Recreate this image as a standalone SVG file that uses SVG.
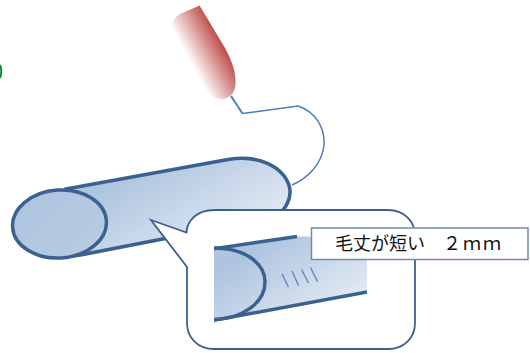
<svg xmlns="http://www.w3.org/2000/svg" width="530" height="353" viewBox="0 0 530 353">
  <style>
    .outline { stroke: #3a6190; fill: none; stroke-linejoin: round; }
    .cord { stroke: #4a7ebb; fill: none; stroke-linejoin: miter; }
    .hair { stroke: #5f8dc0; stroke-width: 1.5; fill: none; }
    .label { font-family: "Noto Sans CJK JP", "Liberation Sans", sans-serif; font-size: 18px; fill: #111111; }
  </style>
  <defs>
    <linearGradient id="tubeFill" gradientUnits="userSpaceOnUse" x1="170" y1="150" x2="235" y2="262">
      <stop offset="0" stop-color="#afc5df"/>
      <stop offset="1" stop-color="#e8eef6"/>
    </linearGradient>
    <linearGradient id="capFill" gradientUnits="userSpaceOnUse" x1="30" y1="190" x2="120" y2="290">
      <stop offset="0" stop-color="#aec4de"/>
      <stop offset="1" stop-color="#bccfe5"/>
    </linearGradient>
    <linearGradient id="insetFill" gradientUnits="userSpaceOnUse" x1="270" y1="240" x2="330" y2="325">
      <stop offset="0" stop-color="#afc5df"/>
      <stop offset="1" stop-color="#e6edf5"/>
    </linearGradient>
    <linearGradient id="tipFill" gradientUnits="userSpaceOnUse" x1="176" y1="36" x2="209" y2="18">
      <stop offset="0" stop-color="#ffffff"/>
      <stop offset="1" stop-color="#bd4a47"/>
    </linearGradient>
    <clipPath id="insetClip"><rect x="214" y="230" width="153" height="95"/></clipPath>
  </defs>

  <!-- green mark cut by the left edge -->
  <path id="edge-mark" d="M0 65 Q2.500 71 0 78" stroke="#0c8a2c" stroke-width="2" fill="none"/>

  <g id="connectors">
    <path class="cord" stroke-width="2" d="M231 96 L242.500 113.500"/>
    <path class="cord" stroke-width="1.500" d="M242.500 113.500 L298 106 C316 112 325 128 324 145 C322 164 308 178 292 185"/>
  </g>

  <g id="brush-tip">
    <path fill="url(#tipFill)" d="M199.500 5.500 L225 48 C232 61 236 72 235.500 84 C235 93 230 98 222 99 C214 99 208 94 203 86 L174 37 C170 28 172 19 179 14.500 Z"/>
  </g>

  <g id="tube">
    <path fill="url(#tubeFill)" stroke="#3a6190" stroke-width="3.500" d="M66 189 L228 159.500 C258 154 284 167 289.500 187 C292 198 286 209 276 217 L92 252.700 Q82 255 72 256 Z"/>
    <ellipse cx="59.500" cy="224" rx="47" ry="34" transform="rotate(-4 59.500 224)" fill="url(#capFill)" stroke="#3a6190" stroke-width="3.500"/>
  </g>

  <g id="callout">
    <path fill="#ffffff" stroke="#3a6190" stroke-width="1.800" d="M151 220 L186.500 232.500 C187 220 198 210 214 210 L388 210 C404 210 415 221 415 236 L415 323 C415 338 404 349 388 349 L214 349 C198 349 187 338 187 323 L187 267 Z"/>
  </g>

  <g id="inset-detail" clip-path="url(#insetClip)">
    <path fill="url(#insetFill)" d="M205 250 L297 236.500 L367 236.500 L367 292 L205 322 Z"/>
    <path class="outline" stroke-width="3.500" d="M205 250 L297 236.500 M367 292 L205 322"/>
    <path class="outline" stroke-width="3.500" d="M214 248 C246 248 265 264 265 282 C265 303 242 319 214 319.500"/>
    <path class="hair" d="M282 274 L288.500 287 M292 271 L298.500 285.500 M301.500 269.500 L308.500 283 M310.500 267.500 L317.500 281.500"/>
  </g>

  <g id="size-label">
    <rect x="311.500" y="228" width="216.500" height="31.500" fill="#ffffff" stroke="#6f8bae" stroke-width="1.500"/>
    <text class="label" x="335" y="249.500">毛丈が短い　２<tspan dx="2" letter-spacing="2">ｍｍ</tspan></text>
  </g>
</svg>
